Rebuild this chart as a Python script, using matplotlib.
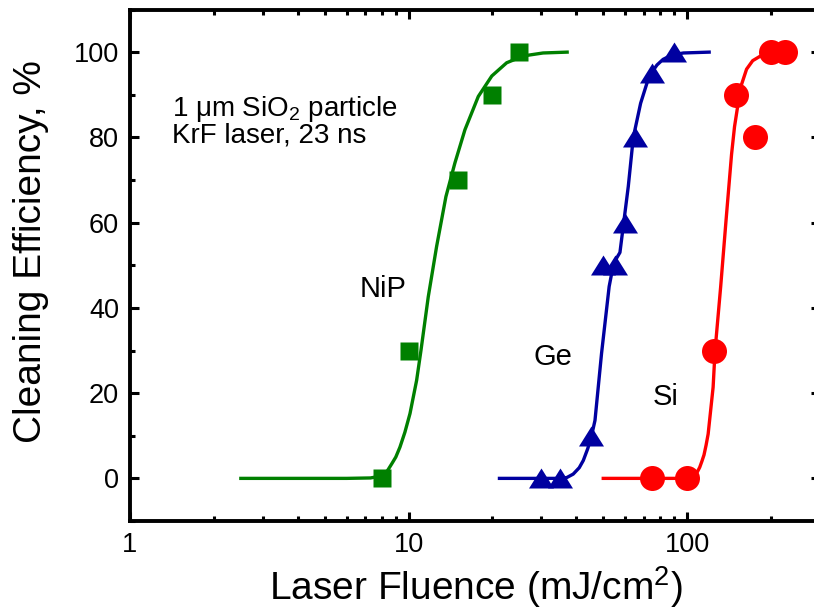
import numpy as np
import matplotlib
matplotlib.use("Agg")
import matplotlib.pyplot as plt
from matplotlib.ticker import LogLocator, MultipleLocator, NullFormatter, FixedLocator, FixedFormatter

plt.rcParams['font.family'] = ['Liberation Sans', 'DejaVu Sans']
plt.rcParams['mathtext.fontset'] = 'custom'
plt.rcParams['mathtext.rm'] = 'Liberation Sans'
plt.rcParams['mathtext.it'] = 'Liberation Sans:italic'
plt.rcParams['mathtext.bf'] = 'Liberation Sans:bold'

# measured points
nip_x = [8, 10, 15, 20, 25]
nip_y = [0, 30, 70, 90, 100]
ge_x = [30, 35, 45, 50, 55, 60, 65, 75, 90]
ge_y = [0, 0, 10, 50, 50, 60, 80, 95, 100]
si_x = [75, 100, 125, 150, 175, 200, 225]
si_y = [0, 0, 30, 90, 80, 100, 100]

# fit curves
nip_fit_x = [2.5, 6.0, 7.3, 7.9, 8.4, 8.7, 9.0, 9.31, 9.7, 10.12, 10.69, 11.08, 11.77,
             12.61, 13.62, 14.67, 15.94, 17.8, 19.9, 22.5, 25.8, 30.4, 37.1]
nip_fit_y = [0, 0, 0.1, 0.5, 1.8, 3.4, 5.0, 7.3, 10.8, 15.2, 23, 30, 42.6,
             54.4, 66.1, 74, 81.8, 89.6, 94.4, 97.5, 99.1, 99.8, 100]
ge_fit_x = [21.2, 35, 37, 39, 41, 42.4, 44, 45.4, 46.7, 49.3, 52.5, 54.5, 57.4, 61.5,
            64.1, 68.1, 73.1, 78, 82, 88, 97, 120]
ge_fit_y = [0, 0, 0.2, 1, 2.5, 4.2, 7, 10, 13.6, 29.3, 45, 50.5, 53, 68.5,
            80, 88, 94.4, 97, 98.3, 99.3, 99.8, 100]
si_fit_x = [50, 75, 100, 104, 107, 109, 111, 113, 115, 117, 119, 124, 126, 132, 138,
            144.4, 148, 152.5, 157, 163.5, 172, 182.5, 200, 230]
si_fit_y = [0, 0, 0, 0.2, 0.8, 1.6, 2.6, 4, 5.5, 7.8, 10.4, 21.4, 30, 45, 60.6,
            76, 82.5, 88, 92.5, 96, 98, 99, 99.8, 100]

green = '#008000'
blue = '#0000a0'
red = '#ff0000'

# triangle a little wider than tall, like the original
tri = [(-1.25, -1.0), (1.25, -1.0), (0.0, 1.0), (-1.25, -1.0)]

fig = plt.figure(figsize=(8.14, 6.09), dpi=100)
ax = fig.add_axes([130/814, 1 - 521/609, 690/814, (521 - 9.5)/609])

ax.plot(nip_fit_x, nip_fit_y, color=green, lw=2.4, zorder=2)
ax.plot(ge_fit_x, ge_fit_y, color=blue, lw=2.4, zorder=2)
ax.plot(si_fit_x, si_fit_y, color=red, lw=2.4, zorder=2)

ax.plot(nip_x, nip_y, 's', color=green, ms=13, mec='none', zorder=3, clip_on=False)
ax.plot(ge_x, ge_y, marker=tri, ls='none', color=blue, ms=18, mec='none', zorder=3, clip_on=False)
ax.plot(si_x, si_y, 'o', color=red, ms=18, mec='none', zorder=3, clip_on=False)

ax.set_xscale('log')
ax.set_xlim(1, 300)
ax.set_ylim(-10, 110)

ax.xaxis.set_major_locator(FixedLocator([1, 10, 100]))
ax.xaxis.set_major_formatter(FixedFormatter(['1', '10', '100']))
ax.xaxis.set_minor_locator(LogLocator(base=10, subs=np.arange(2, 10)))
ax.xaxis.set_minor_formatter(NullFormatter())
ax.yaxis.set_major_locator(MultipleLocator(20))
ax.yaxis.set_minor_locator(MultipleLocator(10))
ax.set_yticks([0, 20, 40, 60, 80, 100])

ax.tick_params(which='both', direction='in', top=True, right=True, width=2.2)
ax.tick_params(which='major', length=6.5, labelsize=19.5, pad=8)
ax.tick_params(which='minor', length=3.8)
for s in ax.spines.values():
    s.set_linewidth(2.8)

fig.text(476/814, 1 - 600/609, 'Laser Fluence (mJ/cm$^2$)', fontsize=28,
         ha='center', va='baseline')
fig.text(31/814, 1 - 252/609, 'Cleaning Efficiency, %', fontsize=28,
         ha='center', va='center', rotation=90)

ax.text(1.415, 84.9, '1 \u03bcm SiO$_2$ particle', fontsize=20, va='baseline')
ax.text(1.415, 78.7, 'KrF laser, 23 ns', fontsize=20, va='baseline')
ax.text(6.69, 42.5, 'NiP', fontsize=21, va='baseline')
ax.text(28.2, 26.5, 'Ge', fontsize=21, va='baseline')
ax.text(75.4, 17.1, 'Si', fontsize=21, va='baseline')

fig.savefig('out.png', dpi=100)
